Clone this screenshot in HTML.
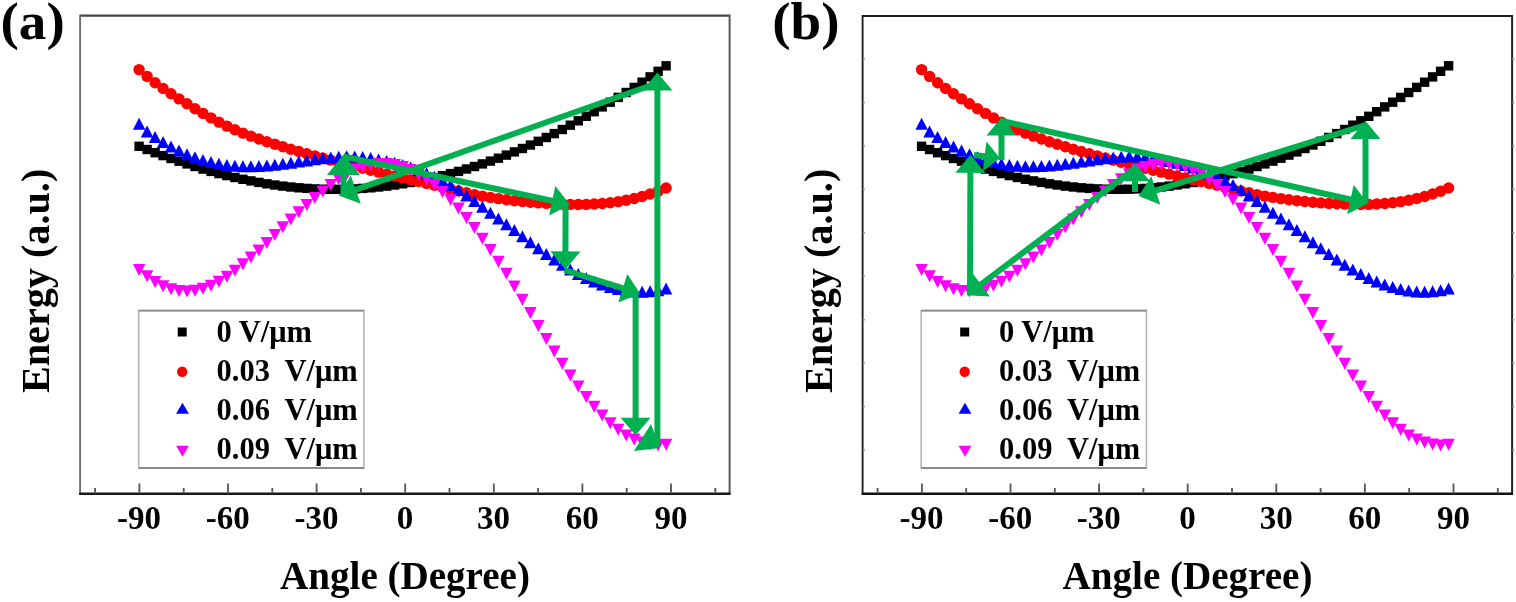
<!DOCTYPE html>
<html><head><meta charset="utf-8"><title>Energy vs Angle</title>
<style>html,body{margin:0;padding:0;background:#fff;width:1516px;height:602px;overflow:hidden}svg{display:block}</style>
</head><body><div id="w">
<svg width="1516" height="602" viewBox="0 0 1516 602">
<style>
text{font-family:"Liberation Serif","Times New Roman",serif;font-weight:bold;fill:#000}
.tl{font-size:33px}
.at{font-size:39.1px}
.yl{font-size:40.2px}
.lg{font-size:30.5px}
.pl{font-size:52px}
</style>
<rect width="1516" height="602" fill="#fff"/>
<g>
<path d="M80.1 15.6H729.6" stroke="#454545" stroke-width="2.2" fill="none"/>
<path d="M80.1 14.6V493.5" stroke="#707070" stroke-width="1.9" fill="none"/>
<path d="M729.6 14.6V493.5" stroke="#5a5a5a" stroke-width="2" fill="none"/>
<path d="M79.1 493.7H730.6" stroke="#181818" stroke-width="2.6" fill="none"/>
<path d="M95.1 493.5v-5.5M139.4 493.5v-10M183.7 493.5v-5.5M228 493.5v-10M272.3 493.5v-5.5M316.6 493.5v-10M360.9 493.5v-5.5M405.2 493.5v-10M449.5 493.5v-5.5M493.8 493.5v-10M538.1 493.5v-5.5M582.4 493.5v-10M626.7 493.5v-5.5M671 493.5v-10M715.3 493.5v-5.5" stroke="#555" stroke-width="1.8" fill="none"/>
<text x="139.1" y="528.5" text-anchor="middle" class="tl">-90</text>
<text x="227.7" y="528.5" text-anchor="middle" class="tl">-60</text>
<text x="316.4" y="528.5" text-anchor="middle" class="tl">-30</text>
<text x="405" y="528.5" text-anchor="middle" class="tl">0</text>
<text x="493.6" y="528.5" text-anchor="middle" class="tl">30</text>
<text x="582.3" y="528.5" text-anchor="middle" class="tl">60</text>
<text x="671" y="528.5" text-anchor="middle" class="tl">90</text>
<text x="405" y="588.5" text-anchor="middle" class="at">Angle (Degree)</text>
<text transform="translate(49.1 280.9) rotate(-90)" text-anchor="middle" class="yl">Energy (a.u.)</text>
<rect x="138.7" y="310.6" width="225.2" height="157.4" fill="#fff" stroke="#b4b4b4" stroke-width="1.6"/>
<path d="M138.7 310.6h225.2M138.7 468h225.2" stroke="#888" stroke-width="1.9" fill="none"/>
<rect x="177.7" y="327.5" width="9" height="9" fill="#000"/>
<circle cx="182.2" cy="371.7" r="5.2" fill="#ff0000"/>
<path d="M182.5 402.8l6.4 11h-12.8z" fill="#0000ff"/>
<path d="M182.5 456.8l6.4 -11h-12.8z" fill="#ff00ff"/>
<text x="216.5" y="342.3" class="lg" xml:space="preserve">0 V/μm</text>
<text x="216.5" y="381" class="lg" xml:space="preserve">0.03  V/μm</text>
<text x="216.5" y="420.3" class="lg" xml:space="preserve">0.06  V/μm</text>
<text x="216.5" y="459.3" class="lg" xml:space="preserve">0.09  V/μm</text>
<g fill="#000"><rect x="134.4" y="141.6" width="9.4" height="9.4"/><rect x="142.4" y="144.8" width="9.4" height="9.4"/><rect x="150.4" y="148" width="9.4" height="9.4"/><rect x="158.4" y="150.9" width="9.4" height="9.4"/><rect x="166.3" y="153.8" width="9.4" height="9.4"/><rect x="174.3" y="156.5" width="9.4" height="9.4"/><rect x="182.3" y="159.2" width="9.4" height="9.4"/><rect x="190.3" y="161.8" width="9.4" height="9.4"/><rect x="198.3" y="164.4" width="9.4" height="9.4"/><rect x="206.3" y="166.7" width="9.4" height="9.4"/><rect x="214.2" y="168.9" width="9.4" height="9.4"/><rect x="222.2" y="170.9" width="9.4" height="9.4"/><rect x="230.2" y="172.8" width="9.4" height="9.4"/><rect x="238.2" y="174.6" width="9.4" height="9.4"/><rect x="246.2" y="176.2" width="9.4" height="9.4"/><rect x="254.2" y="177.7" width="9.4" height="9.4"/><rect x="262.2" y="179.1" width="9.4" height="9.4"/><rect x="270.1" y="180.3" width="9.4" height="9.4"/><rect x="278.1" y="181.4" width="9.4" height="9.4"/><rect x="286.1" y="182.3" width="9.4" height="9.4"/><rect x="294.1" y="183.1" width="9.4" height="9.4"/><rect x="302.1" y="183.7" width="9.4" height="9.4"/><rect x="310.1" y="184.2" width="9.4" height="9.4"/><rect x="318.1" y="184.5" width="9.4" height="9.4"/><rect x="326" y="184.6" width="9.4" height="9.4"/><rect x="334" y="184.6" width="9.4" height="9.4"/><rect x="342" y="184.5" width="9.4" height="9.4"/><rect x="350" y="184.2" width="9.4" height="9.4"/><rect x="358" y="183.7" width="9.4" height="9.4"/><rect x="366" y="183.1" width="9.4" height="9.4"/><rect x="373.9" y="182.3" width="9.4" height="9.4"/><rect x="381.9" y="181.4" width="9.4" height="9.4"/><rect x="389.9" y="180.3" width="9.4" height="9.4"/><rect x="397.9" y="179.1" width="9.4" height="9.4"/><rect x="405.9" y="177.8" width="9.4" height="9.4"/><rect x="413.9" y="176.3" width="9.4" height="9.4"/><rect x="421.9" y="174.7" width="9.4" height="9.4"/><rect x="429.8" y="172.9" width="9.4" height="9.4"/><rect x="437.8" y="171" width="9.4" height="9.4"/><rect x="445.8" y="168.9" width="9.4" height="9.4"/><rect x="453.8" y="166.7" width="9.4" height="9.4"/><rect x="461.8" y="164.3" width="9.4" height="9.4"/><rect x="469.8" y="161.8" width="9.4" height="9.4"/><rect x="477.7" y="159.2" width="9.4" height="9.4"/><rect x="485.7" y="156.4" width="9.4" height="9.4"/><rect x="493.7" y="153.5" width="9.4" height="9.4"/><rect x="501.7" y="150.4" width="9.4" height="9.4"/><rect x="509.7" y="147.2" width="9.4" height="9.4"/><rect x="517.7" y="143.8" width="9.4" height="9.4"/><rect x="525.7" y="140.3" width="9.4" height="9.4"/><rect x="533.6" y="136.6" width="9.4" height="9.4"/><rect x="541.6" y="132.8" width="9.4" height="9.4"/><rect x="549.6" y="128.9" width="9.4" height="9.4"/><rect x="557.6" y="124.8" width="9.4" height="9.4"/><rect x="565.6" y="120.5" width="9.4" height="9.4"/><rect x="573.6" y="116.1" width="9.4" height="9.4"/><rect x="581.6" y="111.6" width="9.4" height="9.4"/><rect x="589.5" y="107" width="9.4" height="9.4"/><rect x="597.5" y="102.2" width="9.4" height="9.4"/><rect x="605.5" y="97.5" width="9.4" height="9.4"/><rect x="613.5" y="92.7" width="9.4" height="9.4"/><rect x="621.5" y="87.8" width="9.4" height="9.4"/><rect x="629.5" y="82.7" width="9.4" height="9.4"/><rect x="637.4" y="77.5" width="9.4" height="9.4"/><rect x="645.4" y="72.2" width="9.4" height="9.4"/><rect x="653.4" y="66.6" width="9.4" height="9.4"/><rect x="661.4" y="61.1" width="9.4" height="9.4"/></g>
<g fill="#ff0000"><circle cx="139.1" cy="69.6" r="5.7"/><circle cx="147.1" cy="76.4" r="5.7"/><circle cx="155.1" cy="82.8" r="5.7"/><circle cx="163.1" cy="88.5" r="5.7"/><circle cx="171" cy="93.8" r="5.7"/><circle cx="179" cy="98.9" r="5.7"/><circle cx="187" cy="103.8" r="5.7"/><circle cx="195" cy="108.7" r="5.7"/><circle cx="203" cy="113.4" r="5.7"/><circle cx="211" cy="117.9" r="5.7"/><circle cx="218.9" cy="122.1" r="5.7"/><circle cx="226.9" cy="126.1" r="5.7"/><circle cx="234.9" cy="129.7" r="5.7"/><circle cx="242.9" cy="133.1" r="5.7"/><circle cx="250.9" cy="136.1" r="5.7"/><circle cx="258.9" cy="139" r="5.7"/><circle cx="266.9" cy="141.7" r="5.7"/><circle cx="274.8" cy="144.3" r="5.7"/><circle cx="282.8" cy="146.8" r="5.7"/><circle cx="290.8" cy="149.2" r="5.7"/><circle cx="298.8" cy="151.5" r="5.7"/><circle cx="306.8" cy="153.7" r="5.7"/><circle cx="314.8" cy="155.9" r="5.7"/><circle cx="322.8" cy="158" r="5.7"/><circle cx="330.7" cy="160.1" r="5.7"/><circle cx="338.7" cy="162.2" r="5.7"/><circle cx="346.7" cy="164.2" r="5.7"/><circle cx="354.7" cy="166.2" r="5.7"/><circle cx="362.7" cy="168.2" r="5.7"/><circle cx="370.7" cy="170.2" r="5.7"/><circle cx="378.6" cy="172.1" r="5.7"/><circle cx="386.6" cy="174.1" r="5.7"/><circle cx="394.6" cy="176" r="5.7"/><circle cx="402.6" cy="177.9" r="5.7"/><circle cx="410.6" cy="179.7" r="5.7"/><circle cx="418.6" cy="181.5" r="5.7"/><circle cx="426.6" cy="183.4" r="5.7"/><circle cx="434.5" cy="185.3" r="5.7"/><circle cx="442.5" cy="187.2" r="5.7"/><circle cx="450.5" cy="189.1" r="5.7"/><circle cx="458.5" cy="191" r="5.7"/><circle cx="466.5" cy="192.8" r="5.7"/><circle cx="474.5" cy="194.6" r="5.7"/><circle cx="482.4" cy="196.1" r="5.7"/><circle cx="490.4" cy="197.4" r="5.7"/><circle cx="498.4" cy="198.6" r="5.7"/><circle cx="506.4" cy="199.7" r="5.7"/><circle cx="514.4" cy="200.7" r="5.7"/><circle cx="522.4" cy="201.5" r="5.7"/><circle cx="530.4" cy="202.3" r="5.7"/><circle cx="538.3" cy="202.9" r="5.7"/><circle cx="546.3" cy="203.4" r="5.7"/><circle cx="554.3" cy="203.8" r="5.7"/><circle cx="562.3" cy="204.1" r="5.7"/><circle cx="570.3" cy="204.4" r="5.7"/><circle cx="578.3" cy="204.5" r="5.7"/><circle cx="586.3" cy="204.4" r="5.7"/><circle cx="594.2" cy="204" r="5.7"/><circle cx="602.2" cy="203.5" r="5.7"/><circle cx="610.2" cy="202.7" r="5.7"/><circle cx="618.2" cy="201.6" r="5.7"/><circle cx="626.2" cy="200.2" r="5.7"/><circle cx="634.2" cy="198.5" r="5.7"/><circle cx="642.1" cy="196.5" r="5.7"/><circle cx="650.1" cy="194" r="5.7"/><circle cx="658.1" cy="191.2" r="5.7"/><circle cx="666.1" cy="188" r="5.7"/></g>
<g fill="#0000ff"><path d="M139.1 117.8L145.4 129.8H132.9Z"/><path d="M147.1 125.4L153.3 137.4H140.8Z"/><path d="M155.1 131.1L161.3 143.1H148.8Z"/><path d="M163.1 136.1L169.3 148.1H156.8Z"/><path d="M171 140.6L177.3 152.6H164.8Z"/><path d="M179 144.6L185.3 156.6H172.8Z"/><path d="M187 148.2L193.3 160.2H180.8Z"/><path d="M195 151.3L201.2 163.3H188.7Z"/><path d="M203 153.9L209.2 165.9H196.7Z"/><path d="M211 156.1L217.2 168.1H204.7Z"/><path d="M218.9 157.8L225.2 169.8H212.7Z"/><path d="M226.9 159L233.2 171H220.7Z"/><path d="M234.9 159.8L241.2 171.8H228.7Z"/><path d="M242.9 160.3L249.2 172.3H236.7Z"/><path d="M250.9 160.3L257.1 172.3H244.6Z"/><path d="M258.9 160.1L265.1 172.1H252.6Z"/><path d="M266.9 159.5L273.1 171.5H260.6Z"/><path d="M274.8 158.8L281.1 170.8H268.6Z"/><path d="M282.8 157.8L289.1 169.8H276.6Z"/><path d="M290.8 156.7L297.1 168.7H284.6Z"/><path d="M298.8 155.6L305 167.6H292.5Z"/><path d="M306.8 154.4L313 166.4H300.5Z"/><path d="M314.8 153.3L321 165.3H308.5Z"/><path d="M322.8 152.3L329 164.3H316.5Z"/><path d="M330.7 151.4L337 163.4H324.5Z"/><path d="M338.7 150.7L345 162.7H332.5Z"/><path d="M346.7 150.2L353 162.2H340.5Z"/><path d="M354.7 150.4L360.9 162.4H348.4Z"/><path d="M362.7 151.1L368.9 163.1H356.4Z"/><path d="M370.7 152.1L376.9 164.1H364.4Z"/><path d="M378.6 153.5L384.9 165.5H372.4Z"/><path d="M386.6 155L392.9 167H380.4Z"/><path d="M394.6 156.8L400.9 168.8H388.4Z"/><path d="M402.6 159L408.8 171H396.3Z"/><path d="M410.6 161.6L416.8 173.6H404.3Z"/><path d="M418.6 164.3L424.8 176.3H412.3Z"/><path d="M426.6 167.3L432.8 179.3H420.3Z"/><path d="M434.5 170.7L440.8 182.7H428.3Z"/><path d="M442.5 174.6L448.8 186.6H436.3Z"/><path d="M450.5 179.1L456.8 191.1H444.3Z"/><path d="M458.5 184.1L464.7 196.1H452.2Z"/><path d="M466.5 189.4L472.7 201.4H460.2Z"/><path d="M474.5 195L480.7 207H468.2Z"/><path d="M482.4 200.8L488.7 212.8H476.2Z"/><path d="M490.4 206.7L496.7 218.7H484.2Z"/><path d="M498.4 212.5L504.7 224.5H492.2Z"/><path d="M506.4 218.3L512.7 230.3H500.2Z"/><path d="M514.4 224.1L520.6 236.1H508.1Z"/><path d="M522.4 230.2L528.6 242.2H516.1Z"/><path d="M530.4 236.2L536.6 248.2H524.1Z"/><path d="M538.3 242.2L544.6 254.2H532.1Z"/><path d="M546.3 248L552.6 260H540.1Z"/><path d="M554.3 253.5L560.6 265.5H548.1Z"/><path d="M562.3 258.7L568.5 270.7H556Z"/><path d="M570.3 263.5L576.5 275.5H564Z"/><path d="M578.3 267.9L584.5 279.9H572Z"/><path d="M586.3 271.9L592.5 283.9H580Z"/><path d="M594.2 275.5L600.5 287.5H588Z"/><path d="M602.2 278.5L608.5 290.5H596Z"/><path d="M610.2 281.1L616.5 293.1H604Z"/><path d="M618.2 283.1L624.4 295.1H611.9Z"/><path d="M626.2 284.5L632.4 296.5H619.9Z"/><path d="M634.2 285.4L640.4 297.4H627.9Z"/><path d="M642.1 285.7L648.4 297.7H635.9Z"/><path d="M650.1 285.3L656.4 297.3H643.9Z"/><path d="M658.1 284.2L664.4 296.2H651.9Z"/><path d="M666.1 282.5L672.3 294.5H659.8Z"/></g>
<g fill="#ff00ff"><path d="M139.1 276.1L145.4 264.1H132.9Z"/><path d="M147.1 282.2L153.3 270.2H140.8Z"/><path d="M155.1 287.9L161.3 275.9H148.8Z"/><path d="M163.1 292.2L169.3 280.2H156.8Z"/><path d="M171 295.2L177.3 283.2H164.8Z"/><path d="M179 297L185.3 285H172.8Z"/><path d="M187 297.5L193.3 285.5H180.8Z"/><path d="M195 296.8L201.2 284.8H188.7Z"/><path d="M203 294.8L209.2 282.8H196.7Z"/><path d="M211 291.8L217.2 279.8H204.7Z"/><path d="M218.9 287.7L225.2 275.7H212.7Z"/><path d="M226.9 282.7L233.2 270.7H220.7Z"/><path d="M234.9 276.8L241.2 264.8H228.7Z"/><path d="M242.9 270.3L249.2 258.3H236.7Z"/><path d="M250.9 263.4L257.1 251.4H244.6Z"/><path d="M258.9 256.4L265.1 244.4H252.6Z"/><path d="M266.9 248.9L273.1 236.9H260.6Z"/><path d="M274.8 241.1L281.1 229.1H268.6Z"/><path d="M282.8 233.3L289.1 221.3H276.6Z"/><path d="M290.8 225.6L297.1 213.6H284.6Z"/><path d="M298.8 218.2L305 206.2H292.5Z"/><path d="M306.8 210.9L313 198.9H300.5Z"/><path d="M314.8 203.9L321 191.9H308.5Z"/><path d="M322.8 197.4L329 185.4H316.5Z"/><path d="M330.7 191.1L337 179.1H324.5Z"/><path d="M338.7 185.3L345 173.3H332.5Z"/><path d="M346.7 180.2L353 168.2H340.5Z"/><path d="M354.7 176L360.9 164H348.4Z"/><path d="M362.7 173L368.9 161H356.4Z"/><path d="M370.7 170.9L376.9 158.9H364.4Z"/><path d="M378.6 169.9L384.9 157.9H372.4Z"/><path d="M386.6 170L392.9 158H380.4Z"/><path d="M394.6 171L400.9 159H388.4Z"/><path d="M402.6 173.1L408.8 161.1H396.3Z"/><path d="M410.6 176.1L416.8 164.1H404.3Z"/><path d="M418.6 180.2L424.8 168.2H412.3Z"/><path d="M426.6 185.2L432.8 173.2H420.3Z"/><path d="M434.5 191.1L440.8 179.1H428.3Z"/><path d="M442.5 198L448.8 186H436.3Z"/><path d="M450.5 205.8L456.8 193.8H444.3Z"/><path d="M458.5 214.4L464.7 202.4H452.2Z"/><path d="M466.5 223.9L472.7 211.9H460.2Z"/><path d="M474.5 234.1L480.7 222.1H468.2Z"/><path d="M482.4 244.8L488.7 232.8H476.2Z"/><path d="M490.4 256L496.7 244H484.2Z"/><path d="M498.4 267.7L504.7 255.7H492.2Z"/><path d="M506.4 279.8L512.7 267.8H500.2Z"/><path d="M514.4 292.6L520.6 280.6H508.1Z"/><path d="M522.4 305.7L528.6 293.7H516.1Z"/><path d="M530.4 318.9L536.6 306.9H524.1Z"/><path d="M538.3 332L544.6 320H532.1Z"/><path d="M546.3 344.9L552.6 332.9H540.1Z"/><path d="M554.3 357.5L560.6 345.5H548.1Z"/><path d="M562.3 369.7L568.5 357.7H556Z"/><path d="M570.3 381.5L576.5 369.5H564Z"/><path d="M578.3 392.6L584.5 380.6H572Z"/><path d="M586.3 403L592.5 391H580Z"/><path d="M594.2 412.7L600.5 400.7H588Z"/><path d="M602.2 421.5L608.5 409.5H596Z"/><path d="M610.2 429.2L616.5 417.2H604Z"/><path d="M618.2 435.8L624.4 423.8H611.9Z"/><path d="M626.2 441.4L632.4 429.4H619.9Z"/><path d="M634.2 445.6L640.4 433.6H627.9Z"/><path d="M642.1 448.4L648.4 436.4H635.9Z"/><path d="M650.1 450.5L656.4 438.5H643.9Z"/><path d="M658.1 451.4L664.4 439.4H651.9Z"/><path d="M666.1 450.8L672.3 438.8H659.8Z"/></g>
<path d="M862.6 16.0H1512.1" stroke="#1c1c1c" stroke-width="2.2" fill="none"/>
<path d="M862.6 15.0V493.5" stroke="#222" stroke-width="1.9" fill="none"/>
<path d="M1512.1 15.0V493.5" stroke="#222" stroke-width="2" fill="none"/>
<path d="M861.6 493.7H1513.1" stroke="#111" stroke-width="2.6" fill="none"/>
<path d="M862.6 59h2.2M1512.1 59h2.2M862.6 102.4h2.2M1512.1 102.4h2.2M862.6 145.9h2.2M1512.1 145.9h2.2M862.6 189.3h2.2M1512.1 189.3h2.2M862.6 232.8h2.2M1512.1 232.8h2.2M862.6 276.2h2.2M1512.1 276.2h2.2M862.6 319.7h2.2M1512.1 319.7h2.2M862.6 363.1h2.2M1512.1 363.1h2.2M862.6 406.6h2.2M1512.1 406.6h2.2M862.6 450h2.2M1512.1 450h2.2" stroke="#888" stroke-width="1.5" fill="none"/>
<path d="M877.6 493.5v-5.5M921.9 493.5v-10M966.2 493.5v-5.5M1010.5 493.5v-10M1054.8 493.5v-5.5M1099.1 493.5v-10M1143.4 493.5v-5.5M1187.7 493.5v-10M1232 493.5v-5.5M1276.3 493.5v-10M1320.6 493.5v-5.5M1364.9 493.5v-10M1409.2 493.5v-5.5M1453.5 493.5v-10M1497.8 493.5v-5.5" stroke="#555" stroke-width="1.8" fill="none"/>
<text x="921.5" y="528.5" text-anchor="middle" class="tl">-90</text>
<text x="1010.2" y="528.5" text-anchor="middle" class="tl">-60</text>
<text x="1098.8" y="528.5" text-anchor="middle" class="tl">-30</text>
<text x="1187.5" y="528.5" text-anchor="middle" class="tl">0</text>
<text x="1276.2" y="528.5" text-anchor="middle" class="tl">30</text>
<text x="1364.8" y="528.5" text-anchor="middle" class="tl">60</text>
<text x="1453.5" y="528.5" text-anchor="middle" class="tl">90</text>
<text x="1187.5" y="588.5" text-anchor="middle" class="at">Angle (Degree)</text>
<text transform="translate(831.6 280.9) rotate(-90)" text-anchor="middle" class="yl">Energy (a.u.)</text>
<rect x="921.2" y="310.6" width="225.2" height="157.4" fill="#fff" stroke="#b4b4b4" stroke-width="1.6"/>
<path d="M921.2 310.6h225.2M921.2 468h225.2" stroke="#888" stroke-width="1.9" fill="none"/>
<rect x="960.2" y="327.5" width="9" height="9" fill="#000"/>
<circle cx="964.7" cy="371.7" r="5.2" fill="#ff0000"/>
<path d="M965 402.8l6.4 11h-12.8z" fill="#0000ff"/>
<path d="M965 456.8l6.4 -11h-12.8z" fill="#ff00ff"/>
<text x="999" y="342.3" class="lg" xml:space="preserve">0 V/μm</text>
<text x="999" y="381" class="lg" xml:space="preserve">0.03  V/μm</text>
<text x="999" y="420.3" class="lg" xml:space="preserve">0.06  V/μm</text>
<text x="999" y="459.3" class="lg" xml:space="preserve">0.09  V/μm</text>
<g fill="#000"><rect x="916.9" y="141.6" width="9.4" height="9.4"/><rect x="924.9" y="144.8" width="9.4" height="9.4"/><rect x="932.9" y="148" width="9.4" height="9.4"/><rect x="940.9" y="150.9" width="9.4" height="9.4"/><rect x="948.8" y="153.8" width="9.4" height="9.4"/><rect x="956.8" y="156.5" width="9.4" height="9.4"/><rect x="964.8" y="159.2" width="9.4" height="9.4"/><rect x="972.8" y="161.8" width="9.4" height="9.4"/><rect x="980.8" y="164.4" width="9.4" height="9.4"/><rect x="988.8" y="166.7" width="9.4" height="9.4"/><rect x="996.7" y="168.9" width="9.4" height="9.4"/><rect x="1004.7" y="170.9" width="9.4" height="9.4"/><rect x="1012.7" y="172.8" width="9.4" height="9.4"/><rect x="1020.7" y="174.6" width="9.4" height="9.4"/><rect x="1028.7" y="176.2" width="9.4" height="9.4"/><rect x="1036.7" y="177.7" width="9.4" height="9.4"/><rect x="1044.7" y="179.1" width="9.4" height="9.4"/><rect x="1052.6" y="180.3" width="9.4" height="9.4"/><rect x="1060.6" y="181.4" width="9.4" height="9.4"/><rect x="1068.6" y="182.3" width="9.4" height="9.4"/><rect x="1076.6" y="183.1" width="9.4" height="9.4"/><rect x="1084.6" y="183.7" width="9.4" height="9.4"/><rect x="1092.6" y="184.2" width="9.4" height="9.4"/><rect x="1100.6" y="184.5" width="9.4" height="9.4"/><rect x="1108.5" y="184.6" width="9.4" height="9.4"/><rect x="1116.5" y="184.6" width="9.4" height="9.4"/><rect x="1124.5" y="184.5" width="9.4" height="9.4"/><rect x="1132.5" y="184.2" width="9.4" height="9.4"/><rect x="1140.5" y="183.7" width="9.4" height="9.4"/><rect x="1148.5" y="183.1" width="9.4" height="9.4"/><rect x="1156.4" y="182.3" width="9.4" height="9.4"/><rect x="1164.4" y="181.4" width="9.4" height="9.4"/><rect x="1172.4" y="180.3" width="9.4" height="9.4"/><rect x="1180.4" y="179.1" width="9.4" height="9.4"/><rect x="1188.4" y="177.8" width="9.4" height="9.4"/><rect x="1196.4" y="176.3" width="9.4" height="9.4"/><rect x="1204.4" y="174.7" width="9.4" height="9.4"/><rect x="1212.3" y="172.9" width="9.4" height="9.4"/><rect x="1220.3" y="171" width="9.4" height="9.4"/><rect x="1228.3" y="168.9" width="9.4" height="9.4"/><rect x="1236.3" y="166.7" width="9.4" height="9.4"/><rect x="1244.3" y="164.3" width="9.4" height="9.4"/><rect x="1252.3" y="161.8" width="9.4" height="9.4"/><rect x="1260.2" y="159.2" width="9.4" height="9.4"/><rect x="1268.2" y="156.4" width="9.4" height="9.4"/><rect x="1276.2" y="153.5" width="9.4" height="9.4"/><rect x="1284.2" y="150.4" width="9.4" height="9.4"/><rect x="1292.2" y="147.2" width="9.4" height="9.4"/><rect x="1300.2" y="143.8" width="9.4" height="9.4"/><rect x="1308.2" y="140.3" width="9.4" height="9.4"/><rect x="1316.1" y="136.6" width="9.4" height="9.4"/><rect x="1324.1" y="132.8" width="9.4" height="9.4"/><rect x="1332.1" y="128.9" width="9.4" height="9.4"/><rect x="1340.1" y="124.8" width="9.4" height="9.4"/><rect x="1348.1" y="120.5" width="9.4" height="9.4"/><rect x="1356.1" y="116.1" width="9.4" height="9.4"/><rect x="1364.1" y="111.6" width="9.4" height="9.4"/><rect x="1372" y="107" width="9.4" height="9.4"/><rect x="1380" y="102.2" width="9.4" height="9.4"/><rect x="1388" y="97.5" width="9.4" height="9.4"/><rect x="1396" y="92.7" width="9.4" height="9.4"/><rect x="1404" y="87.8" width="9.4" height="9.4"/><rect x="1412" y="82.7" width="9.4" height="9.4"/><rect x="1419.9" y="77.5" width="9.4" height="9.4"/><rect x="1427.9" y="72.2" width="9.4" height="9.4"/><rect x="1435.9" y="66.6" width="9.4" height="9.4"/><rect x="1443.9" y="61.1" width="9.4" height="9.4"/></g>
<g fill="#ff0000"><circle cx="921.6" cy="69.6" r="5.7"/><circle cx="929.6" cy="76.4" r="5.7"/><circle cx="937.6" cy="82.8" r="5.7"/><circle cx="945.6" cy="88.5" r="5.7"/><circle cx="953.5" cy="93.8" r="5.7"/><circle cx="961.5" cy="98.9" r="5.7"/><circle cx="969.5" cy="103.8" r="5.7"/><circle cx="977.5" cy="108.7" r="5.7"/><circle cx="985.5" cy="113.4" r="5.7"/><circle cx="993.5" cy="117.9" r="5.7"/><circle cx="1001.4" cy="122.1" r="5.7"/><circle cx="1009.4" cy="126.1" r="5.7"/><circle cx="1017.4" cy="129.7" r="5.7"/><circle cx="1025.4" cy="133.1" r="5.7"/><circle cx="1033.4" cy="136.1" r="5.7"/><circle cx="1041.4" cy="139" r="5.7"/><circle cx="1049.4" cy="141.7" r="5.7"/><circle cx="1057.3" cy="144.3" r="5.7"/><circle cx="1065.3" cy="146.8" r="5.7"/><circle cx="1073.3" cy="149.2" r="5.7"/><circle cx="1081.3" cy="151.5" r="5.7"/><circle cx="1089.3" cy="153.7" r="5.7"/><circle cx="1097.3" cy="155.9" r="5.7"/><circle cx="1105.3" cy="158" r="5.7"/><circle cx="1113.2" cy="160.1" r="5.7"/><circle cx="1121.2" cy="162.2" r="5.7"/><circle cx="1129.2" cy="164.2" r="5.7"/><circle cx="1137.2" cy="166.2" r="5.7"/><circle cx="1145.2" cy="168.2" r="5.7"/><circle cx="1153.2" cy="170.2" r="5.7"/><circle cx="1161.1" cy="172.1" r="5.7"/><circle cx="1169.1" cy="174.1" r="5.7"/><circle cx="1177.1" cy="176" r="5.7"/><circle cx="1185.1" cy="177.9" r="5.7"/><circle cx="1193.1" cy="179.7" r="5.7"/><circle cx="1201.1" cy="181.5" r="5.7"/><circle cx="1209.1" cy="183.4" r="5.7"/><circle cx="1217" cy="185.3" r="5.7"/><circle cx="1225" cy="187.2" r="5.7"/><circle cx="1233" cy="189.1" r="5.7"/><circle cx="1241" cy="191" r="5.7"/><circle cx="1249" cy="192.8" r="5.7"/><circle cx="1257" cy="194.6" r="5.7"/><circle cx="1264.9" cy="196.1" r="5.7"/><circle cx="1272.9" cy="197.4" r="5.7"/><circle cx="1280.9" cy="198.6" r="5.7"/><circle cx="1288.9" cy="199.7" r="5.7"/><circle cx="1296.9" cy="200.7" r="5.7"/><circle cx="1304.9" cy="201.5" r="5.7"/><circle cx="1312.9" cy="202.3" r="5.7"/><circle cx="1320.8" cy="202.9" r="5.7"/><circle cx="1328.8" cy="203.4" r="5.7"/><circle cx="1336.8" cy="203.8" r="5.7"/><circle cx="1344.8" cy="204.1" r="5.7"/><circle cx="1352.8" cy="204.4" r="5.7"/><circle cx="1360.8" cy="204.5" r="5.7"/><circle cx="1368.8" cy="204.4" r="5.7"/><circle cx="1376.7" cy="204" r="5.7"/><circle cx="1384.7" cy="203.5" r="5.7"/><circle cx="1392.7" cy="202.7" r="5.7"/><circle cx="1400.7" cy="201.6" r="5.7"/><circle cx="1408.7" cy="200.2" r="5.7"/><circle cx="1416.7" cy="198.5" r="5.7"/><circle cx="1424.6" cy="196.5" r="5.7"/><circle cx="1432.6" cy="194" r="5.7"/><circle cx="1440.6" cy="191.2" r="5.7"/><circle cx="1448.6" cy="188" r="5.7"/></g>
<g fill="#0000ff"><path d="M921.6 117.8L927.9 129.8H915.4Z"/><path d="M929.6 125.4L935.8 137.4H923.3Z"/><path d="M937.6 131.1L943.8 143.1H931.3Z"/><path d="M945.6 136.1L951.8 148.1H939.3Z"/><path d="M953.5 140.6L959.8 152.6H947.3Z"/><path d="M961.5 144.6L967.8 156.6H955.3Z"/><path d="M969.5 148.2L975.8 160.2H963.3Z"/><path d="M977.5 151.3L983.7 163.3H971.2Z"/><path d="M985.5 153.9L991.7 165.9H979.2Z"/><path d="M993.5 156.1L999.7 168.1H987.2Z"/><path d="M1001.4 157.8L1007.7 169.8H995.2Z"/><path d="M1009.4 159L1015.7 171H1003.2Z"/><path d="M1017.4 159.8L1023.7 171.8H1011.2Z"/><path d="M1025.4 160.3L1031.7 172.3H1019.2Z"/><path d="M1033.4 160.3L1039.6 172.3H1027.1Z"/><path d="M1041.4 160.1L1047.6 172.1H1035.1Z"/><path d="M1049.4 159.5L1055.6 171.5H1043.1Z"/><path d="M1057.3 158.8L1063.6 170.8H1051.1Z"/><path d="M1065.3 157.8L1071.6 169.8H1059.1Z"/><path d="M1073.3 156.7L1079.6 168.7H1067.1Z"/><path d="M1081.3 155.6L1087.5 167.6H1075Z"/><path d="M1089.3 154.4L1095.5 166.4H1083Z"/><path d="M1097.3 153.3L1103.5 165.3H1091Z"/><path d="M1105.3 152.3L1111.5 164.3H1099Z"/><path d="M1113.2 151.4L1119.5 163.4H1107Z"/><path d="M1121.2 150.7L1127.5 162.7H1115Z"/><path d="M1129.2 150.2L1135.5 162.2H1123Z"/><path d="M1137.2 150.4L1143.4 162.4H1130.9Z"/><path d="M1145.2 151.1L1151.4 163.1H1138.9Z"/><path d="M1153.2 152.1L1159.4 164.1H1146.9Z"/><path d="M1161.1 153.5L1167.4 165.5H1154.9Z"/><path d="M1169.1 155L1175.4 167H1162.9Z"/><path d="M1177.1 156.8L1183.4 168.8H1170.9Z"/><path d="M1185.1 159L1191.3 171H1178.8Z"/><path d="M1193.1 161.6L1199.3 173.6H1186.8Z"/><path d="M1201.1 164.3L1207.3 176.3H1194.8Z"/><path d="M1209.1 167.3L1215.3 179.3H1202.8Z"/><path d="M1217 170.7L1223.3 182.7H1210.8Z"/><path d="M1225 174.6L1231.3 186.6H1218.8Z"/><path d="M1233 179.1L1239.3 191.1H1226.8Z"/><path d="M1241 184.1L1247.2 196.1H1234.7Z"/><path d="M1249 189.4L1255.2 201.4H1242.7Z"/><path d="M1257 195L1263.2 207H1250.7Z"/><path d="M1264.9 200.8L1271.2 212.8H1258.7Z"/><path d="M1272.9 206.7L1279.2 218.7H1266.7Z"/><path d="M1280.9 212.5L1287.2 224.5H1274.7Z"/><path d="M1288.9 218.3L1295.2 230.3H1282.7Z"/><path d="M1296.9 224.1L1303.1 236.1H1290.6Z"/><path d="M1304.9 230.2L1311.1 242.2H1298.6Z"/><path d="M1312.9 236.2L1319.1 248.2H1306.6Z"/><path d="M1320.8 242.2L1327.1 254.2H1314.6Z"/><path d="M1328.8 248L1335.1 260H1322.6Z"/><path d="M1336.8 253.5L1343.1 265.5H1330.6Z"/><path d="M1344.8 258.7L1351 270.7H1338.5Z"/><path d="M1352.8 263.5L1359 275.5H1346.5Z"/><path d="M1360.8 267.9L1367 279.9H1354.5Z"/><path d="M1368.8 271.9L1375 283.9H1362.5Z"/><path d="M1376.7 275.5L1383 287.5H1370.5Z"/><path d="M1384.7 278.5L1391 290.5H1378.5Z"/><path d="M1392.7 281.1L1399 293.1H1386.5Z"/><path d="M1400.7 283.1L1406.9 295.1H1394.4Z"/><path d="M1408.7 284.5L1414.9 296.5H1402.4Z"/><path d="M1416.7 285.4L1422.9 297.4H1410.4Z"/><path d="M1424.6 285.7L1430.9 297.7H1418.4Z"/><path d="M1432.6 285.3L1438.9 297.3H1426.4Z"/><path d="M1440.6 284.2L1446.9 296.2H1434.4Z"/><path d="M1448.6 282.5L1454.8 294.5H1442.3Z"/></g>
<g fill="#ff00ff"><path d="M921.6 276.1L927.9 264.1H915.4Z"/><path d="M929.6 282.2L935.8 270.2H923.3Z"/><path d="M937.6 287.9L943.8 275.9H931.3Z"/><path d="M945.6 292.2L951.8 280.2H939.3Z"/><path d="M953.5 295.2L959.8 283.2H947.3Z"/><path d="M961.5 297L967.8 285H955.3Z"/><path d="M969.5 297.5L975.8 285.5H963.3Z"/><path d="M977.5 296.8L983.7 284.8H971.2Z"/><path d="M985.5 294.8L991.7 282.8H979.2Z"/><path d="M993.5 291.8L999.7 279.8H987.2Z"/><path d="M1001.4 287.7L1007.7 275.7H995.2Z"/><path d="M1009.4 282.7L1015.7 270.7H1003.2Z"/><path d="M1017.4 276.8L1023.7 264.8H1011.2Z"/><path d="M1025.4 270.3L1031.7 258.3H1019.2Z"/><path d="M1033.4 263.4L1039.6 251.4H1027.1Z"/><path d="M1041.4 256.4L1047.6 244.4H1035.1Z"/><path d="M1049.4 248.9L1055.6 236.9H1043.1Z"/><path d="M1057.3 241.1L1063.6 229.1H1051.1Z"/><path d="M1065.3 233.3L1071.6 221.3H1059.1Z"/><path d="M1073.3 225.6L1079.6 213.6H1067.1Z"/><path d="M1081.3 218.2L1087.5 206.2H1075Z"/><path d="M1089.3 210.9L1095.5 198.9H1083Z"/><path d="M1097.3 203.9L1103.5 191.9H1091Z"/><path d="M1105.3 197.4L1111.5 185.4H1099Z"/><path d="M1113.2 191.1L1119.5 179.1H1107Z"/><path d="M1121.2 185.3L1127.5 173.3H1115Z"/><path d="M1129.2 180.2L1135.5 168.2H1123Z"/><path d="M1137.2 176L1143.4 164H1130.9Z"/><path d="M1145.2 173L1151.4 161H1138.9Z"/><path d="M1153.2 170.9L1159.4 158.9H1146.9Z"/><path d="M1161.1 169.9L1167.4 157.9H1154.9Z"/><path d="M1169.1 170L1175.4 158H1162.9Z"/><path d="M1177.1 171L1183.4 159H1170.9Z"/><path d="M1185.1 173.1L1191.3 161.1H1178.8Z"/><path d="M1193.1 176.1L1199.3 164.1H1186.8Z"/><path d="M1201.1 180.2L1207.3 168.2H1194.8Z"/><path d="M1209.1 185.2L1215.3 173.2H1202.8Z"/><path d="M1217 191.1L1223.3 179.1H1210.8Z"/><path d="M1225 198L1231.3 186H1218.8Z"/><path d="M1233 205.8L1239.3 193.8H1226.8Z"/><path d="M1241 214.4L1247.2 202.4H1234.7Z"/><path d="M1249 223.9L1255.2 211.9H1242.7Z"/><path d="M1257 234.1L1263.2 222.1H1250.7Z"/><path d="M1264.9 244.8L1271.2 232.8H1258.7Z"/><path d="M1272.9 256L1279.2 244H1266.7Z"/><path d="M1280.9 267.7L1287.2 255.7H1274.7Z"/><path d="M1288.9 279.8L1295.2 267.8H1282.7Z"/><path d="M1296.9 292.6L1303.1 280.6H1290.6Z"/><path d="M1304.9 305.7L1311.1 293.7H1298.6Z"/><path d="M1312.9 318.9L1319.1 306.9H1306.6Z"/><path d="M1320.8 332L1327.1 320H1314.6Z"/><path d="M1328.8 344.9L1335.1 332.9H1322.6Z"/><path d="M1336.8 357.5L1343.1 345.5H1330.6Z"/><path d="M1344.8 369.7L1351 357.7H1338.5Z"/><path d="M1352.8 381.5L1359 369.5H1346.5Z"/><path d="M1360.8 392.6L1367 380.6H1354.5Z"/><path d="M1368.8 403L1375 391H1362.5Z"/><path d="M1376.7 412.7L1383 400.7H1370.5Z"/><path d="M1384.7 421.5L1391 409.5H1378.5Z"/><path d="M1392.7 429.2L1399 417.2H1386.5Z"/><path d="M1400.7 435.8L1406.9 423.8H1394.4Z"/><path d="M1408.7 441.4L1414.9 429.4H1402.4Z"/><path d="M1416.7 445.6L1422.9 433.6H1410.4Z"/><path d="M1424.6 448.4L1430.9 436.4H1418.4Z"/><path d="M1432.6 450.5L1438.9 438.5H1426.4Z"/><path d="M1440.6 451.4L1446.9 439.4H1434.4Z"/><path d="M1448.6 450.8L1454.8 438.8H1442.3Z"/></g>
<path d="M343.5 156.5L554.1 201.2" stroke="#00b050" stroke-width="6" fill="none"/><path d="M569.8 204.5L549.1 215.4L555.3 186.1Z" fill="#00b050"/><path d="M565.6 203L565.4 253.4" stroke="#00b050" stroke-width="6" fill="none"/><path d="M565.3 269.4L550.4 251.3L580.4 251.5Z" fill="#00b050"/><path d="M564.5 270L624.7 288.8" stroke="#00b050" stroke-width="6" fill="none"/><path d="M640 293.6L618.3 302.5L627.3 273.9Z" fill="#00b050"/><path d="M635.6 293L635.6 419.8" stroke="#00b050" stroke-width="6" fill="none"/><path d="M635.6 435.3L620.6 417.8L650.6 417.8Z" fill="#00b050"/><path d="M634 451L651 424L660 448Z" fill="#00b050"/><path d="M657.4 445L657.4 88.6" stroke="#00b050" stroke-width="6" fill="none"/><path d="M657.4 72.6L672.4 90.6L642.4 90.6Z" fill="#00b050"/><path d="M652 85L353.9 190.3" stroke="#00b050" stroke-width="6" fill="none"/><path d="M338.8 195.6L350.8 175.5L360.8 203.8Z" fill="#00b050"/><path d="M343.5 192L343.5 173" stroke="#00b050" stroke-width="6" fill="none"/><path d="M343.5 154.5L360 175L327 175Z" fill="#00b050"/>
<path d="M970 295L970.4 170.8" stroke="#00b050" stroke-width="6" fill="none"/><path d="M970.5 154.8L985.4 172.9L955.4 172.7Z" fill="#00b050"/><path d="M974 155L986.6 156.6" stroke="#00b050" stroke-width="6" fill="none"/><path d="M1000 158.3L982.7 171.2L986.5 141.5Z" fill="#00b050"/><path d="M1001.5 160L1001.5 133.4" stroke="#00b050" stroke-width="6" fill="none"/><path d="M1001.5 117.4L1016.5 135.4L986.5 135.4Z" fill="#00b050"/><path d="M1002 121L1352.4 200" stroke="#00b050" stroke-width="6" fill="none"/><path d="M1368 203.5L1347.1 214.2L1353.7 184.9Z" fill="#00b050"/><path d="M1365.5 203L1365.5 137" stroke="#00b050" stroke-width="6" fill="none"/><path d="M1365.5 121L1380.5 139L1350.5 139Z" fill="#00b050"/><path d="M1365.5 125L1153.9 191.1" stroke="#00b050" stroke-width="6" fill="none"/><path d="M1138.6 195.9L1151.3 176.2L1160.3 204.8Z" fill="#00b050"/><path d="M1135 192L1135 179.2" stroke="#00b050" stroke-width="6" fill="none"/><path d="M1135 163.2L1150 181.2L1120 181.2Z" fill="#00b050"/><path d="M1135 168.5L979.4 285.6" stroke="#00b050" stroke-width="6" fill="none"/><path d="M966.6 295.2L972 272.4L990 296.4Z" fill="#00b050"/>
<text transform="translate(0.5 39.1) scale(1.06 1)" class="pl">(a)</text>
<text transform="translate(772.2 39.3) scale(1.06 1)" class="pl">(b)</text>
</g>
</svg>
</div></body></html>
